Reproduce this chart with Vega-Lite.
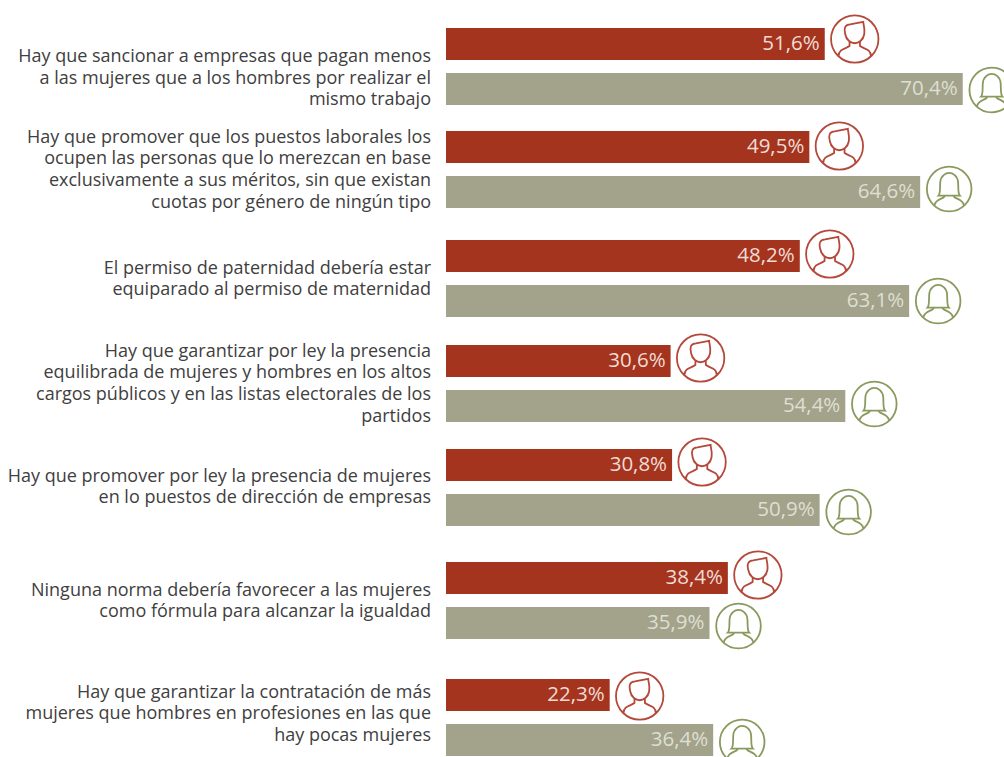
{"$schema":"https://vega.github.io/schema/vega-lite/v6.json","autosize":{"type":"none"},"padding":{"left":446,"top":0,"right":0,"bottom":0},"width":558,"height":757,"background":"white","config":{"view":{"stroke":null}},
"datasets":{"barras":[
{"fila":1,"sexo":"Hombres","valor":51.6,"etiqueta":"51,6%"},{"fila":2,"sexo":"Mujeres","valor":70.4,"etiqueta":"70,4%"},
{"fila":3,"sexo":"Hombres","valor":49.5,"etiqueta":"49,5%"},{"fila":4,"sexo":"Mujeres","valor":64.6,"etiqueta":"64,6%"},
{"fila":5,"sexo":"Hombres","valor":48.2,"etiqueta":"48,2%"},{"fila":6,"sexo":"Mujeres","valor":63.1,"etiqueta":"63,1%"},
{"fila":7,"sexo":"Hombres","valor":30.6,"etiqueta":"30,6%"},{"fila":8,"sexo":"Mujeres","valor":54.4,"etiqueta":"54,4%"},
{"fila":9,"sexo":"Hombres","valor":30.8,"etiqueta":"30,8%"},{"fila":10,"sexo":"Mujeres","valor":50.9,"etiqueta":"50,9%"},
{"fila":11,"sexo":"Hombres","valor":38.4,"etiqueta":"38,4%"},{"fila":12,"sexo":"Mujeres","valor":35.9,"etiqueta":"35,9%"},
{"fila":13,"sexo":"Hombres","valor":22.3,"etiqueta":"22,3%"},{"fila":14,"sexo":"Mujeres","valor":36.4,"etiqueta":"36,4%"}],
"enunciados":[
{"n":1,"texto":["Hay que sancionar a empresas que pagan menos","a las mujeres que a los hombres por realizar el","mismo trabajo"]},
{"n":2,"texto":["Hay que promover que los puestos laborales los","ocupen las personas que lo merezcan en base","exclusivamente a sus méritos, sin que existan","cuotas por género de ningún tipo"]},
{"n":3,"texto":["El permiso de paternidad debería estar","equiparado al permiso de maternidad"]},
{"n":4,"texto":["Hay que garantizar por ley la presencia","equilibrada de mujeres y hombres en los altos","cargos públicos y en las listas electorales de los","partidos"]},
{"n":5,"texto":["Hay que promover por ley la presencia de mujeres","en lo puestos de dirección de empresas"]},
{"n":6,"texto":["Ninguna norma debería favorecer a las mujeres","como fórmula para alcanzar la igualdad"]},
{"n":7,"texto":["Hay que garantizar la contratación de más","mujeres que hombres en profesiones en las que","hay pocas mujeres"]}]},
"resolve":{"scale":{"y":"independent","color":"independent"}},
"layer":[
{"data":{"name":"barras"},"mark":{"type":"bar","orient":"horizontal","size":32},
"encoding":{"x":{"field":"valor","type":"quantitative","stack":null,"scale":{"domain":[0,76.02],"nice":false,"zero":false},"axis":null},"y":{"field":"fila","type":"quantitative","axis":null,"scale":{"domain":[1,2,3,4,5,6,7,8,9,10,11,12,13,14],"range":[44,89,147,192,256,301,361,406,465,510,578,623,695,740],"nice":false,"zero":false,"padding":0}},
"color":{"field":"sexo","type":"nominal","legend":null,"scale":{"domain":["Hombres","Mujeres"],"range":["#a5341e","#a3a38b"]}}}},
{"data":{"name":"barras"},"mark":{"type":"text","align":"right","baseline":"middle","dx":-5,"font":"Open Sans","fontSize":20.5},
"encoding":{"x":{"field":"valor","type":"quantitative","stack":null,"scale":{"domain":[0,76.02],"nice":false,"zero":false},"axis":null},"y":{"field":"fila","type":"quantitative","axis":null,"scale":{"domain":[1,2,3,4,5,6,7,8,9,10,11,12,13,14],"range":[44,89,147,192,256,301,361,406,465,510,578,623,695,740],"nice":false,"zero":false}},
"text":{"field":"etiqueta","type":"nominal"},
"color":{"field":"sexo","type":"nominal","legend":null,"scale":{"domain":["Hombres","Mujeres"],"range":["#f0dcd5","#dedfd2"]}}}},
{"data":{"name":"barras"},"transform":[{"filter":"datum.sexo === 'Hombres'"}],
"mark":{"type":"point","filled":false,"size":2247,"strokeWidth":1.8,"stroke":"#b4483a","opacity":1,"shape":"M-1,0A1,1 0 1 1 1,0A1,1 0 1 1 -1,0ZM-0.4,-0.2C-0.47,-0.45 -0.42,-0.6 -0.2,-0.62L0.36,-0.72C0.36,-0.6 0.44,-0.45 0.4,-0.2C0.36,0.05 0.15,0.18 0,0.18C-0.15,0.18 -0.36,0.05 -0.4,-0.2ZM-0.22,0.12L-0.22,0.3C-0.4,0.42 -0.68,0.42 -0.68,0.72M0.22,0.12L0.22,0.3C0.4,0.42 0.68,0.42 0.68,0.72"},
"encoding":{"x":{"field":"valor","type":"quantitative","stack":null,"scale":{"domain":[0,76.02],"nice":false,"zero":false},"axis":null},"xOffset":{"value":30},"y":{"field":"fila","type":"quantitative","axis":null,"scale":{"domain":[1,3,5,7,9,11,13],"range":[39,146,254,358,462,575,696],"nice":false,"zero":false}}}},
{"data":{"name":"barras"},"transform":[{"filter":"datum.sexo === 'Mujeres'"}],
"mark":{"type":"point","filled":false,"size":1990,"strokeWidth":1.8,"stroke":"#8a9a5e","opacity":1,"shape":"M-1,0A1,1 0 1 1 1,0A1,1 0 1 1 -1,0ZM-0.48,0.3C-0.38,0.2 -0.42,-0.1 -0.4,-0.3C-0.38,-0.6 -0.15,-0.72 0,-0.72C0.15,-0.72 0.38,-0.6 0.4,-0.3C0.42,-0.1 0.38,0.2 0.48,0.3ZM-0.2,0.3C-0.2,0.45 -0.6,0.42 -0.66,0.72M0.2,0.3C0.2,0.45 0.6,0.42 0.66,0.72"},
"encoding":{"x":{"field":"valor","type":"quantitative","stack":null,"scale":{"domain":[0,76.02],"nice":false,"zero":false},"axis":null},"xOffset":{"value":29},"y":{"field":"fila","type":"quantitative","axis":null,"scale":{"domain":[2,4,6,8,10,12,14],"range":[90,189,301,404,512,626,742],"nice":false,"zero":false}}}},
{"data":{"name":"enunciados"},"mark":{"type":"text","align":"right","baseline":"middle","dx":-15,"font":"Open Sans","fontSize":18,"lineHeight":21.7,"color":"#404040"},
"encoding":{"x":{"datum":0,"type":"quantitative","scale":{"domain":[0,76.02],"nice":false,"zero":false},"axis":null},"y":{"field":"n","type":"quantitative","axis":null,"scale":{"domain":[1,2,3,4,5,6,7],"range":[57,137.5,268.5,351.5,476.5,590.5,692.5],"nice":false,"zero":false}},"text":{"field":"texto","type":"nominal"}}}
]}
